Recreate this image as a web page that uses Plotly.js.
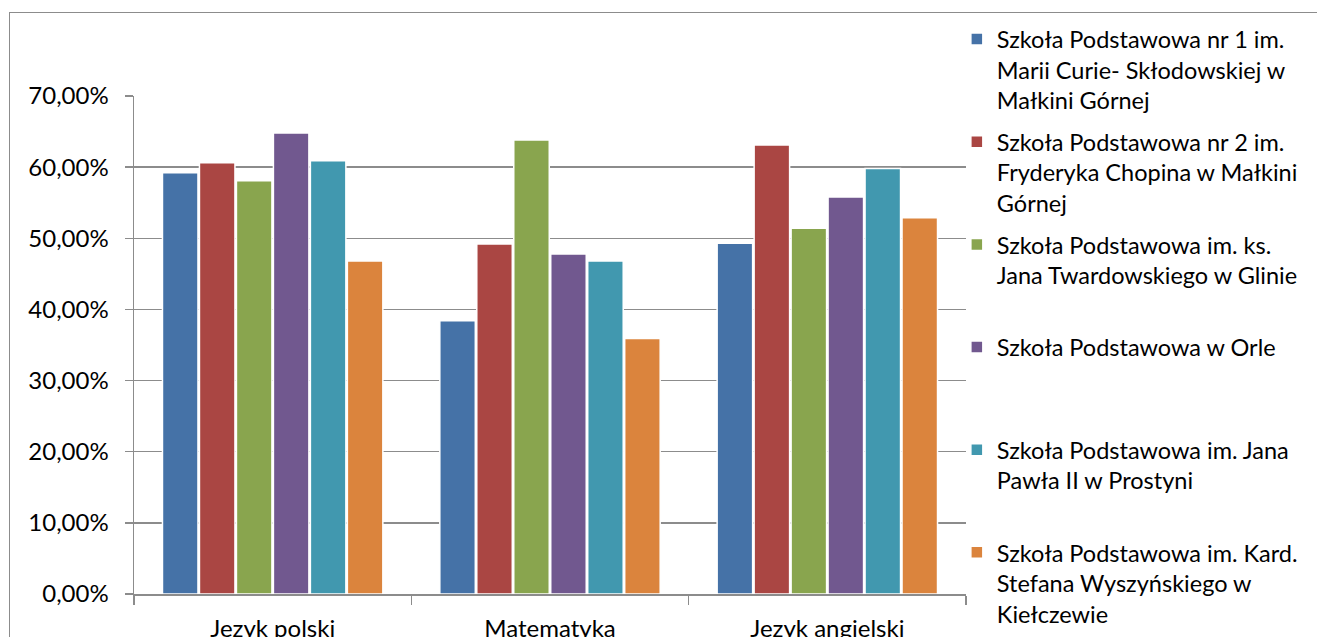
<!DOCTYPE html>
<html>
<head>
<meta charset="utf-8">
<script src="https://cdn.plot.ly/plotly-3.0.1.min.js"></script>
<style>
  html, body { margin: 0; padding: 0; background: #fff; }
  #wrap { position: relative; width: 1317px; height: 637px; overflow: hidden; }
  #chart { width: 1317px; height: 637px; }
  #frame { position: absolute; left: 9px; top: 12px; width: 1400px; height: 700px;
           border: 1.5px solid #8c8c8c; pointer-events: none; }
</style>
</head>
<body>
<div id="wrap">
  <div id="chart"></div>
  <div id="frame"></div>
</div>
<script>
const categories = ['Jezyk polski', 'Matematyka', 'Jezyk angielski'];

const seriesNames = [
  'Szkoła Podstawowa nr 1 im.<br>Marii Curie- Skłodowskiej w<br>Małkini Górnej',
  'Szkoła Podstawowa nr 2 im.<br>Fryderyka Chopina w Małkini<br>Górnej',
  'Szkoła Podstawowa im. ks.<br>Jana Twardowskiego w Glinie<br>\u00a0',
  'Szkoła Podstawowa w Orle<br>\u00a0<br>\u00a0',
  'Szkoła Podstawowa im. Jana<br>Pawła II w Prostyni<br>\u00a0',
  'Szkoła Podstawowa im. Kard.<br>Stefana Wyszyńskiego w<br>Kiełczewie'
];

const sp1 = [0.592, 0.384, 0.493];
const sp2 = [0.606, 0.492, 0.631];
const spGlinie = [0.581, 0.638, 0.514];
const spOrle = [0.648, 0.478, 0.558];
const spProstyni = [0.609, 0.468, 0.598];
const spKielczewie = [0.468, 0.359, 0.529];

const seriesValues = [sp1, sp2, spGlinie, spOrle, spProstyni, spKielczewie];
const colors = ['#4572A7', '#AA4643', '#89A54E', '#71588F', '#4198AF', '#DB843D'];

const yTickVals = [0, 0.1, 0.2, 0.3, 0.4, 0.5, 0.6, 0.7];

const FONT = 'Lato, "Open Sans", sans-serif';

const traces = seriesValues.map((vals, i) => ({
  type: 'bar',
  name: seriesNames[i],
  x: categories,
  y: vals,
  legendgroup: 'g' + i,
  marker: { color: colors[i], line: { color: '#ffffff', width: 1.5 } },
  hoverinfo: 'x+y'
}));

const layout = {
  width: 1317,
  height: 637,
  margin: { l: 134, r: 351, t: 96, b: 43, autoexpand: false },
  paper_bgcolor: '#ffffff',
  plot_bgcolor: '#ffffff',
  separators: ', ',
  font: { family: FONT, size: 23.5, color: '#000000' },
  barmode: 'group',
  bargap: 0.2,
  bargroupgap: 0.04,
  showlegend: true,
  legend: {
    x: 0.989, xanchor: 'left',
    y: 1.158, yanchor: 'top',
    valign: 'top',
    tracegroupgap: 8,
    maxheight: 900,
    font: { family: FONT, size: 23.5, color: '#000000' },
    bgcolor: 'rgba(0,0,0,0)'
  },
  xaxis: {
    type: 'category',
    showline: true,
    linecolor: '#8c8c8c',
    linewidth: 1.5,
    ticks: 'outside',
    tickson: 'boundaries',
    ticklen: 9,
    tickwidth: 1.5,
    tickcolor: '#8c8c8c',
    ticklabelstandoff: 13,
    showgrid: false,
    zeroline: false,
    fixedrange: true,
    tickfont: { family: FONT, size: 24, color: '#000000' }
  },
  yaxis: {
    range: [0, 0.7],
    tickvals: yTickVals,
    tickformat: '.2%',
    showline: true,
    linecolor: '#8c8c8c',
    linewidth: 1.5,
    ticks: 'outside',
    ticklen: 8,
    tickwidth: 1.5,
    tickcolor: '#8c8c8c',
    ticklabelstandoff: 11,
    showgrid: true,
    gridcolor: '#8c8c8c',
    gridwidth: 1.5,
    zeroline: false,
    fixedrange: true,
    tickfont: { family: FONT, size: 24, color: '#000000' }
  }
};

Plotly.newPlot('chart', traces, layout, { displayModeBar: false, staticPlot: true });
</script>
</body>
</html>
